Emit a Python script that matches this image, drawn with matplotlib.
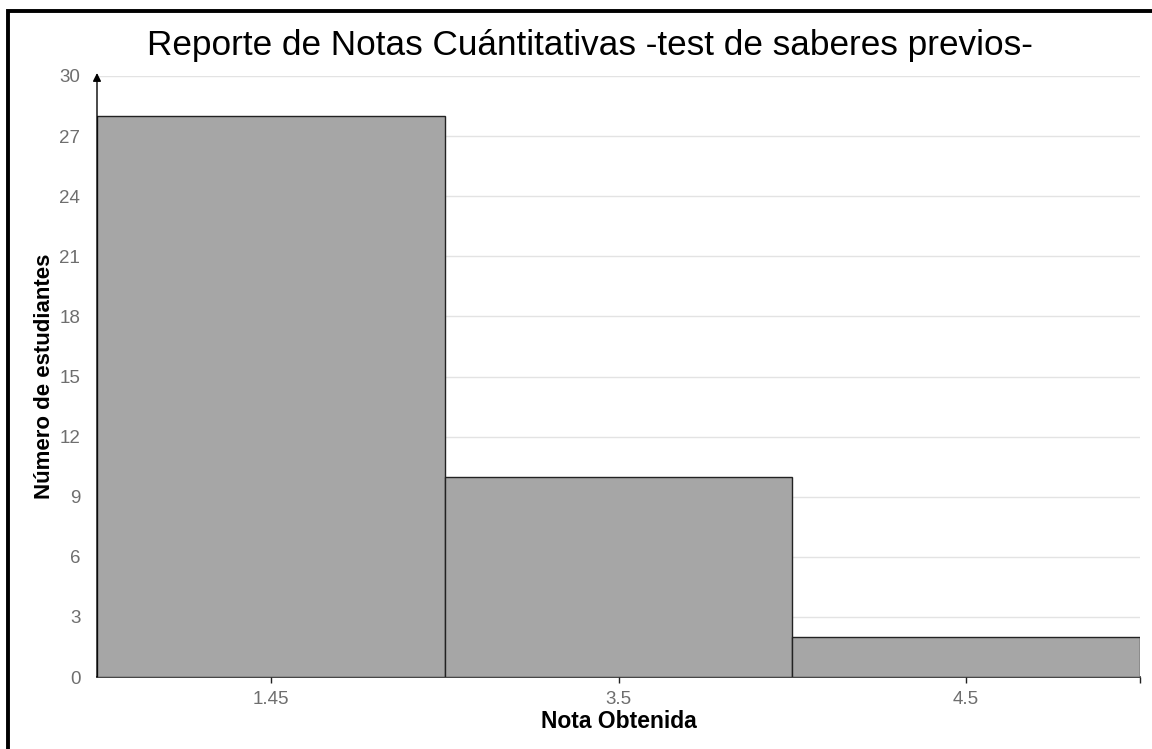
import matplotlib
matplotlib.use("Agg")
import matplotlib.pyplot as plt
from matplotlib.patches import Rectangle

plt.rcParams['font.family'] = ['Liberation Sans', 'DejaVu Sans']

categorias = ["1.45", "3.5", "4.5"]
estudiantes = [28, 10, 2]
y_ticks = [0, 3, 6, 9, 12, 15, 18, 21, 24, 27, 30]

W, H = 1152, 749
fig = plt.figure(figsize=(W / 100, H / 100), dpi=100)

# outer frame
fig.patches.append(Rectangle((8 / W, -0.01), 1.05, 1 - 11 / H + 0.01,
                             transform=fig.transFigure, fill=False,
                             edgecolor='black', linewidth=2.8, zorder=0))

left, right, top, bottom = 97, 1140, 76, 677
ax = fig.add_axes([left / W, 1 - bottom / H, (right - left) / W, (bottom - top) / H])

x = range(len(categorias))
ax.bar(x, estudiantes, width=1.0, color='#a6a6a6', edgecolor='#222222',
       linewidth=1.0, zorder=3)

ax.set_xlim(-0.5, len(categorias) - 0.5)
ax.set_ylim(0, 30)
ax.set_yticks(y_ticks)
ax.set_xticks(list(x) + [len(categorias) - 0.5])
ax.set_xticklabels(categorias + [""])

ax.yaxis.grid(True, color='#e3e3e3', linewidth=1.0, zorder=0)
ax.set_axisbelow(True)

for s in ['top', 'right']:
    ax.spines[s].set_visible(False)
ax.spines['left'].set_visible(False)
ax.spines['bottom'].set_color('#222222')
ax.spines['bottom'].set_linewidth(1.2)

# vertical axis with arrow head
ax.annotate('', xy=(0, 1.005), xycoords='axes fraction', xytext=(0, 0),
            textcoords='axes fraction',
            arrowprops=dict(arrowstyle='-|>', color='black', lw=1.0,
                            mutation_scale=12, shrinkA=0, shrinkB=0),
            zorder=5, annotation_clip=False)

ax.tick_params(axis='y', length=0, pad=12, labelsize=13.5, labelcolor='#6e6e6e')
ax.tick_params(axis='x', length=4, width=1, color='#222222', pad=6,
               labelsize=13.5, labelcolor='#6e6e6e', direction='out')

ax.set_ylabel('Número de estudiantes', fontsize=16, fontweight='bold')
ax.yaxis.set_label_coords((45 - left) / (right - left), 0.5)
ax.set_xlabel('Nota Obtenida', fontsize=16.5, fontweight='bold')
ax.xaxis.set_label_coords(0.5, -(722 - bottom) / (bottom - top))
ax.xaxis.label.set_va('center')
ax.yaxis.label.set_va('center')

fig.text(590 / W, 1 - 45 / H, 'Reporte de Notas Cuántitativas -test de saberes previos-',
         ha='center', va='center', fontsize=25.3)

fig.savefig('out.png', dpi=100, facecolor='white')
